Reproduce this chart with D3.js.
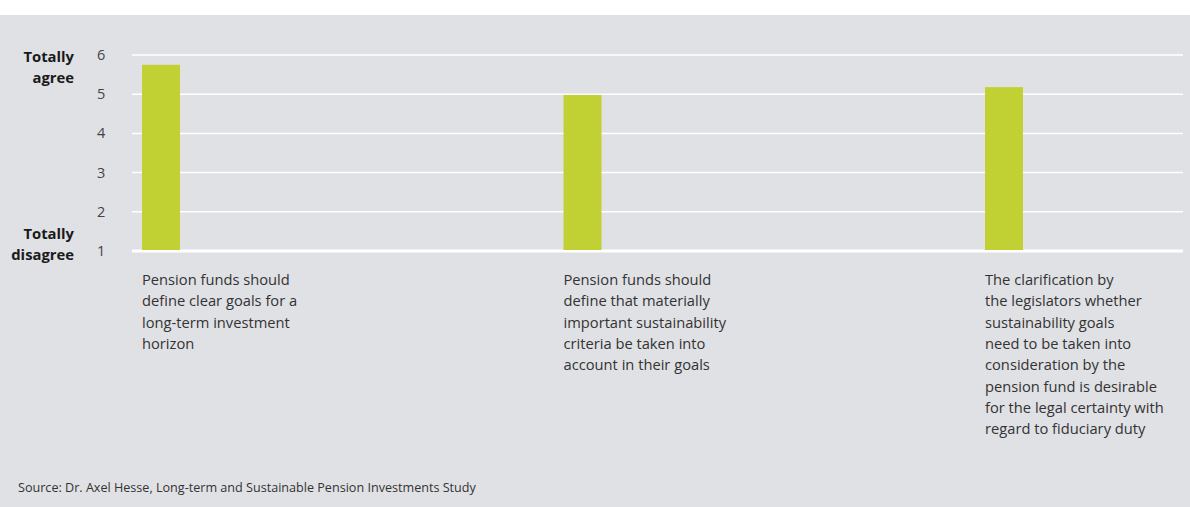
<!DOCTYPE html>
<html>
<head>
<meta charset="utf-8">
<script src="https://cdn.jsdelivr.net/npm/d3@7"></script>
<style>
  body { margin: 0; background: #fff; }
  svg { display: block; font-family: "Open Sans", "Noto Sans", sans-serif; }
</style>
</head>
<body>
<script>
// statements (x axis)
var categories = [
  ["Pension funds should", "define clear goals for a", "long-term investment", "horizon"],
  ["Pension funds should", "define that materially", "important sustainability", "criteria be taken into", "account in their goals"],
  ["The clarification by", "the legislators whether", "sustainability goals", "need to be taken into", "consideration by the", "pension fund is desirable", "for the legal certainty with", "regard to fiduciary duty"]
];
var values = [5.75, 4.98, 5.18];
var yTicks = [1, 2, 3, 4, 5, 6];
var source = "Source: Dr. Axel Hesse, Long-term and Sustainable Pension Investments Study";

var w = 1190, h = 507;

var svg = d3.select("body").append("svg")
    .attr("width", w)
    .attr("height", h);

// grey panel under a thin white strip
svg.append("rect")
    .attr("x", 0)
    .attr("y", 15)
    .attr("width", w)
    .attr("height", h - 15)
    .attr("fill", "#e0e1e5");

var y = d3.scaleLinear().domain([1, 6]).range([251, 55]);
var x = d3.scaleBand()
    .domain(d3.range(categories.length))
    .range([142, 142 + 421.5 * 3])
    .padding(0)
    .align(0);
var barW = 38;

// gridlines
svg.append("g").selectAll("line")
    .data(yTicks)
  .enter().append("line")
    .attr("x1", 132)
    .attr("x2", 1183)
    .attr("y1", function(d) { return y(d); })
    .attr("y2", function(d) { return y(d); })
    .attr("stroke", "#fff")
    .attr("stroke-width", function(d) { return d === 1 ? 3 : 1.5; });

// tick labels
svg.append("g").selectAll("text")
    .data(yTicks)
  .enter().append("text")
    .attr("x", 97)
    .attr("y", function(d) { return y(d) + 5; })
    .attr("font-size", 14.5)
    .attr("fill", "#444")
    .text(function(d) { return d; });

// scale ends
var ends = [
  {lines: ["Totally", "agree"], y0: 62},
  {lines: ["Totally", "disagree"], y0: 239}
];
ends.forEach(function(e) {
  var t = svg.append("text")
      .attr("x", 74)
      .attr("y", e.y0)
      .attr("text-anchor", "end")
      .attr("font-size", 14.8)
      .attr("font-weight", "bold")
      .attr("fill", "#1a1a1a");
  t.selectAll("tspan")
      .data(e.lines)
    .enter().append("tspan")
      .attr("x", 74)
      .attr("dy", function(d, i) { return i ? 20.5 : 0; })
      .text(function(d) { return d; });
});

// bars
svg.append("g").selectAll("rect")
    .data(values)
  .enter().append("rect")
    .attr("x", function(d, i) { return x(i); })
    .attr("y", function(d) { return y(d); })
    .attr("width", barW)
    .attr("height", function(d) { return y(1) - 1 - y(d); })
    .attr("fill", "#c1d032");

// category labels
categories.forEach(function(lines, i) {
  var t = svg.append("text")
      .attr("y", 285)
      .attr("font-size", 14.7)
      .attr("fill", "#333");
  t.selectAll("tspan")
      .data(lines)
    .enter().append("tspan")
      .attr("x", x(i))
      .attr("dy", function(d, j) { return j ? 21.3 : 0; })
      .text(function(d) { return d; });
});

svg.append("text")
    .attr("x", 18)
    .attr("y", 492)
    .attr("font-size", 12.6)
    .attr("fill", "#333")
    .text(source);
</script>
</body>
</html>
